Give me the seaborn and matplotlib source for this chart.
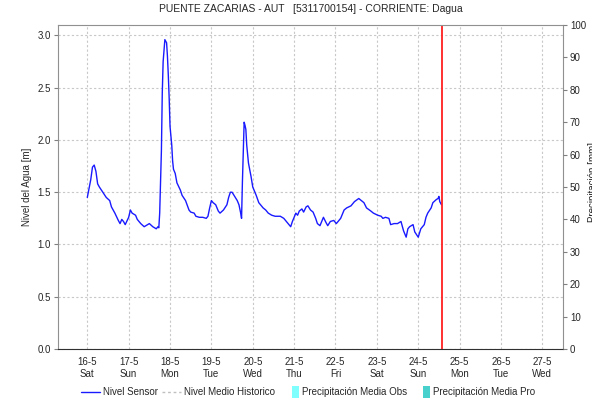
import pandas as pd
import matplotlib
matplotlib.use('Agg')
import matplotlib.pyplot as plt
from matplotlib.lines import Line2D
import seaborn as sns

# === data (hours after 16-5 00:00, level in m) ===
start = pd.Timestamp('2020-05-16 00:00')
hours = [0, 2, 3, 4, 5, 6, 7, 9, 11, 13, 14, 16, 18, 19, 20, 21, 22, 24, 25, 26,
         28, 29, 31, 33, 35, 36, 38, 40, 41, 41.5, 42, 43, 43.5, 44, 44.5, 45, 46, 46.5,
         47, 47.5, 48, 49, 49.5, 50, 51, 52, 54, 55, 57, 59, 60, 62, 63, 65, 67, 69,
         70, 71, 72, 73, 74.5, 76, 77, 79, 81, 82, 83, 84, 85.5, 87, 88, 89, 89.5,
         90, 91, 91.5, 92, 92.5, 93.5, 95, 96, 98, 99.5, 101, 102, 103.5, 105, 107,
         109, 112, 114, 115.5, 118, 119, 121, 122, 123, 124.5, 125.5, 127, 128,
         129.5, 131, 132.5, 133.5, 135, 136, 137, 138.5, 139.5, 141, 143, 144.5,
         147, 149, 150.5, 153, 155, 157.5, 159, 160.5, 162, 164.5, 166, 168.5,
         170.5, 171.5, 173, 175, 176, 178, 180, 182, 183.5, 185, 186, 187, 189, 190,
         192, 193.5, 195.5, 196.5, 197.5, 199.5, 200.5, 202.5, 203.5, 204, 204.5, 205.5]
nivel = [1.45, 1.62, 1.74, 1.76, 1.70, 1.58, 1.55, 1.50, 1.45, 1.42, 1.36, 1.30, 1.23,
         1.20, 1.24, 1.22, 1.19, 1.26, 1.33, 1.30, 1.28, 1.24, 1.20, 1.17, 1.19, 1.20,
         1.17, 1.15, 1.17, 1.16, 1.30, 1.90, 2.45, 2.75, 2.85, 2.96, 2.93, 2.80, 2.62,
         2.40, 2.13, 1.95, 1.80, 1.72, 1.68, 1.59, 1.52, 1.47, 1.42, 1.33, 1.31, 1.30,
         1.27, 1.26, 1.26, 1.25, 1.27, 1.35, 1.42, 1.40, 1.38, 1.32, 1.30, 1.33, 1.38,
         1.45, 1.50, 1.50, 1.46, 1.42, 1.38, 1.30, 1.25, 1.60, 2.17, 2.14, 2.10, 1.95,
         1.78, 1.65, 1.55, 1.47, 1.40, 1.37, 1.35, 1.33, 1.30, 1.28, 1.27, 1.27, 1.25,
         1.22, 1.17, 1.22, 1.30, 1.28, 1.32, 1.34, 1.31, 1.36, 1.37, 1.33, 1.31, 1.25,
         1.20, 1.18, 1.22, 1.26, 1.21, 1.18, 1.22, 1.23, 1.20, 1.25, 1.33, 1.35, 1.37,
         1.41, 1.44, 1.42, 1.40, 1.35, 1.32, 1.30, 1.28, 1.27, 1.25, 1.26, 1.25, 1.19,
         1.20, 1.20, 1.22, 1.13, 1.07, 1.15, 1.17, 1.19, 1.12, 1.07, 1.15, 1.19, 1.26,
         1.30, 1.35, 1.40, 1.43, 1.44, 1.46, 1.41, 1.38]
ahora = pd.Timestamp('2020-05-24 14:00')
tick_days = pd.date_range('2020-05-16', '2020-05-27', freq='D')
dias = ['Sat', 'Sun', 'Mon', 'Tue', 'Wed', 'Thu', 'Fri', 'Sat', 'Sun', 'Mon', 'Tue', 'Wed']

df = pd.DataFrame({'fecha': start + pd.to_timedelta(hours, unit='h'), 'nivel': nivel})

sns.set_style('white')
plt.rcParams['font.family'] = ['Liberation Sans', 'DejaVu Sans']
plt.rcParams['font.size'] = 7

fig = plt.figure(figsize=(5.92, 4.04), dpi=100)
ax = fig.add_axes([58 / 592, 1 - 349 / 404, 505 / 592, 324 / 404])

sns.lineplot(data=df, x='fecha', y='nivel', color='#1a1aff', lw=1, ax=ax)
ax.axvline(ahora, color='#ff2020', lw=1.3)

ax.set_xlim(start - pd.Timedelta(hours=17), pd.Timestamp('2020-05-27 12:00'))
ax.set_ylim(0, 3.1)
ax.set_yticks([0, 0.5, 1.0, 1.5, 2.0, 2.5, 3.0])
ax.set_yticklabels(['0.0', '0.5', '1.0', '1.5', '2.0', '2.5', '3.0'])
ax.set_xticks(tick_days)
ax.set_xticklabels([f'{d.day}-{d.month}\n{n}' for d, n in zip(tick_days, dias)])
ax.set_xlabel('')
ax.set_ylabel('Nivel del Agua [m]', fontsize=7)
ax.grid(True, color='#c8c8c8', linestyle=(0, (2, 2)), lw=0.8)
ax.tick_params(axis='y', length=3, color='#808080', pad=2)
ax.tick_params(axis='x', length=0, pad=6)
for s in ['left', 'right', 'top']:
    ax.spines[s].set_color('#909090')
    ax.spines[s].set_linewidth(0.8)
ax.spines['bottom'].set_color('#303030')
ax.spines['bottom'].set_linestyle((0, (1, 1)))

# right axis (precipitation)
ax2 = ax.twinx()
ax2.set_ylim(0, 100)
ax2.set_yticks(range(0, 101, 10))
ax2.tick_params(axis='y', length=3, color='#808080', pad=2)
for s in ax2.spines.values():
    s.set_visible(False)
# label sits partly outside the canvas, as in the reference
fig.text(0.994, 0.55, 'Precipitación [mm]', rotation=90, ha='left', va='center', fontsize=7)

ax.set_title('PUENTE ZACARIAS - AUT   [5311700154] - CORRIENTE: Dagua', fontsize=7.5, pad=9)

# narrow tall boxes for the precipitation legend keys, pushed to the right end of the handle
caja = [(1, -2), (3, -2), (3, 2), (1, 2), (1, -2)]
handles = [Line2D([], [], color='#1a1aff', lw=1),
           Line2D([], [], color='#c0c0c0', lw=1, linestyle=(0, (2, 2))),
           Line2D([], [], ls='none', marker=caja, markersize=14, color='#80ffff', markeredgewidth=0),
           Line2D([], [], ls='none', marker=caja, markersize=14, color='#48d1cc', markeredgewidth=0)]
labels = ['Nivel Sensor', 'Nivel Medio Historico', 'Precipitación Media Obs', 'Precipitación Media Pro']
fig.legend(handles, labels, loc='center', bbox_to_anchor=(0.52, 1 - 392 / 404), ncol=4,
           frameon=False, fontsize=7, handlelength=2, handletextpad=0.3, columnspacing=0.4)

fig.savefig('out.png', dpi=100)
